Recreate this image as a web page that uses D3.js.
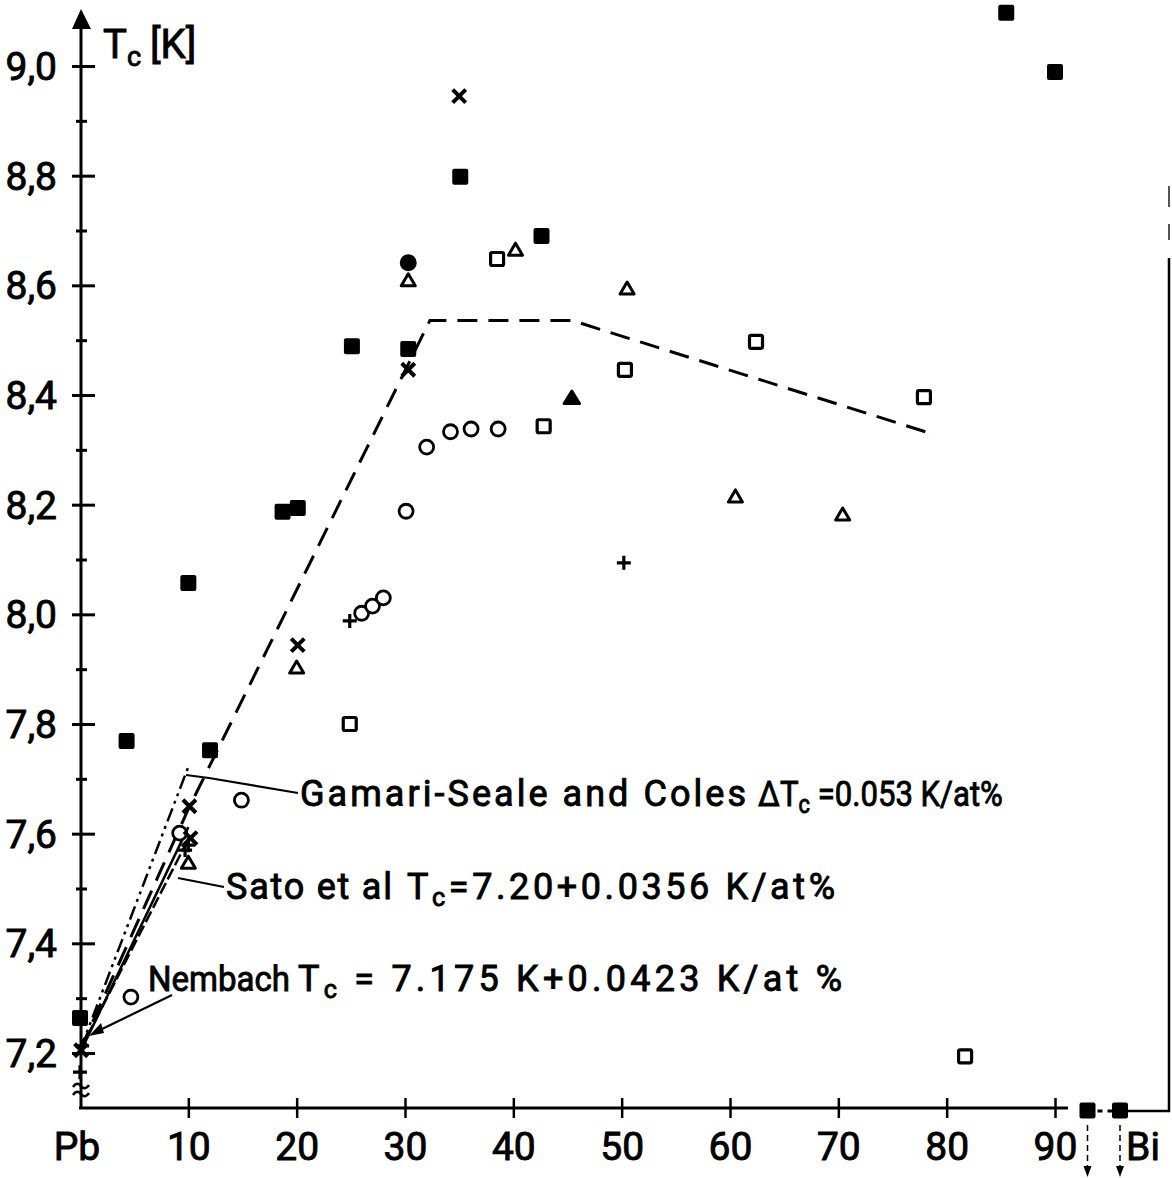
<!DOCTYPE html>
<html><head><meta charset="utf-8">
<script src="https://cdn.jsdelivr.net/npm/d3@7"></script>
<style>
body{margin:0;background:#fff}
svg{display:block}
text{font-family:Roboto,"DejaVu Sans",sans-serif;fill:#000;stroke:#000;stroke-width:0.9px}
</style>
</head><body>
<svg id="c" width="1172" height="1178"></svg>
<script>
// ---- data ----
const xTicks=[10,20,30,40,50,60,70,80,90];
const xTickLabels=["10","20","30","40","50","60","70","80","90"];
const yMajor=[7.2,7.4,7.6,7.8,8.0,8.2,8.4,8.6,8.8,9.0];
const yMajorLabels=["7,2","7,4","7,6","7,8","8,0","8,2","8,4","8,6","8,8","9,0"];
const yMinor=[7.3,7.5,7.7,7.9,8.1,8.3,8.5,8.7,8.9];

const filledSquares=[[0,7.264],[4.3,7.769],[10,8.057],[12,7.752],[18.7,8.187],[20.1,8.194],[25.1,8.489],[30.3,8.484],[35.1,8.798],[42.6,8.69],[85.5,9.097],[90,8.989]];
const belowRange=[[93.0,7.095],[96.0,7.095]];
const openCircles=[[4.7,7.302],[9.2,7.601],[14.9,7.661],[26.0,8.002],[27.0,8.015],[28.0,8.03],[30.1,8.188],[32.0,8.305],[34.2,8.333],[36.1,8.338],[38.6,8.338]];
const openSquares=[[24.9,7.8],[38.5,8.648],[42.8,8.343],[50.3,8.446],[62.4,8.497],[77.9,8.396],[81.7,7.194]];
const openTriangles=[[10.0,7.548],[20.0,7.904],[30.3,8.61],[40.2,8.666],[50.5,8.595],[60.5,8.216],[70.4,8.183]];
const filledTriangles=[[45.4,8.396]];
const filledCircles=[[30.3,8.641]];
const crosses=[[10.1,7.65],[20.1,7.944],[30.3,8.446],[35.0,8.945],[10.2,7.592],[0.1,7.205]];
const pluses=[[0,7.165],[24.9,7.988],[50.2,8.094],[10.0,7.579],[0.2,7.213],[9.7,7.57]];

const guideLine=[[0,7.205],[10,7.645],[32.3,8.536],[45.4,8.536],[79,8.327]];
const gamariLine=[[0,7.205],[10,7.722]];
const nembachLine=[[0,7.2],[10,7.612]];
const satoLine=[[0,7.205],[10,7.59]];

// ---- scales ----
const svg=d3.select("#c");
const x=d3.scaleLinear().domain([0,90]).range([80,1055]);
const y=d3.scaleLinear().domain([7.2,9.0]).range([1053,66]);
const axisY=1108, axisX=81;

// ---- axes ----
const yAx=svg.append("g").attr("transform",`translate(${axisX},0)`)
  .call(d3.axisLeft(y).tickValues(yMajor).tickFormat((d,i)=>yMajorLabels[i]).tickSize(9).tickPadding(0));
yAx.select(".domain").remove();
yAx.selectAll(".tick line").attr("x1",-9).attr("x2",14).attr("stroke","#000").attr("stroke-width",3);
yAx.selectAll(".tick text").attr("x",-24).attr("dy","0.35em").attr("font-size",39).attr("text-anchor","end")
  .attr("font-family","Roboto").attr("fill","#000");
const yMin=svg.append("g").attr("transform",`translate(${axisX},0)`)
  .call(d3.axisLeft(y).tickValues(yMinor).tickFormat("").tickSize(5));
yMin.select(".domain").remove();
yMin.selectAll(".tick line").attr("x1",-5).attr("x2",6).attr("stroke","#000").attr("stroke-width",3);

const xAx=svg.append("g").attr("transform",`translate(0,${axisY})`)
  .call(d3.axisBottom(x).tickValues(xTicks).tickFormat((d,i)=>xTickLabels[i]).tickSize(10).tickPadding(0));
xAx.select(".domain").remove();
xAx.selectAll(".tick line").attr("y1",-10).attr("y2",10).attr("stroke","#000").attr("stroke-width",2.5);
xAx.selectAll(".tick text").attr("y",52).attr("dy",0).attr("font-size",39).attr("font-family","Roboto").attr("fill","#000");

const lineAttr=s=>s.attr("stroke","#000").attr("stroke-width",3).attr("fill","none");
// y axis line + arrow
svg.append("line").attr("x1",axisX).attr("x2",axisX).attr("y1",axisY).attr("y2",26).call(lineAttr);
svg.append("path").attr("d",`M${axisX},9 L${axisX-9},29 L${axisX+10},29 Z`).attr("fill","#000");
// break symbol
[1085,1093].forEach(yy=>{
  svg.append("path").attr("d",`M${axisX-8},${yy+2} q4,-6 8,-1 t8,-1`).attr("stroke","#000").attr("stroke-width",2.5).attr("fill","none");
});
// x axis
svg.append("line").attr("x1",axisX-2).attr("x2",1068).attr("y1",axisY).attr("y2",axisY).call(lineAttr);
svg.append("line").attr("x1",x(93)).attr("x2",x(96)).attr("y1",axisY+3).attr("y2",axisY+3).call(lineAttr).attr("stroke-dasharray","5,5");
svg.append("path").attr("d",`M1127,${axisY+3} L1169,${axisY+3} L1169,258`).call(lineAttr).attr("stroke-width",2.5);
svg.append("line").attr("x1",1169).attr("x2",1169).attr("y1",186).attr("y2",207).call(lineAttr).attr("stroke-width",2).attr("stroke","#555");
svg.append("line").attr("x1",1169).attr("x2",1169).attr("y1",224).attr("y2",240).call(lineAttr).attr("stroke-width",2).attr("stroke","#555");

// extra axis labels
svg.append("text").attr("x",x(0)-3).attr("y",1160).attr("font-size",39).attr("text-anchor","middle").text("Pb");
svg.append("text").attr("x",1143).attr("y",1160).attr("font-size",39).attr("text-anchor","middle").text("Bi");
const tl=svg.append("text").attr("x",103).attr("y",58).attr("font-size",40);
tl.append("tspan").text("T");
tl.append("tspan").attr("font-size",27).attr("dy",8).text("c");
tl.append("tspan").attr("dy",-8).attr("dx",9).text("[K]");

// below-range arrows
belowRange.forEach(d=>{
  const px=x(d[0]);
  svg.append("line").attr("x1",px).attr("x2",px).attr("y1",axisY+17).attr("y2",1168).attr("stroke","#000").attr("stroke-width",1.5).attr("stroke-dasharray","6,4");
  svg.append("path").attr("d",`M${px},1177 L${px-4},1166 L${px+4},1166 Z`).attr("fill","#000");
});

// ---- lines ----
const ln=d3.line().x(d=>x(d[0])).y(d=>y(d[1]));
svg.append("path").attr("d",ln(guideLine)).call(lineAttr).attr("stroke-dasharray","20,11");
svg.append("path").attr("d",ln(gamariLine)).call(lineAttr).attr("stroke-width",2.5).attr("stroke-dasharray","14,5,3,5,3,5");
svg.append("path").attr("d",ln(nembachLine)).call(lineAttr).attr("stroke-width",2.5);
svg.append("path").attr("d",ln(satoLine)).call(lineAttr).attr("stroke-width",2.5).attr("stroke-dasharray","12,4");

// ---- markers ----
const g=svg.append("g");
g.selectAll(".fs").data(filledSquares.concat(belowRange)).join("rect")
  .attr("x",d=>x(d[0])-8).attr("y",d=>y(d[1])-8).attr("width",16).attr("height",16).attr("rx",2).attr("fill","#000");
g.selectAll(".os").data(openSquares).join("rect")
  .attr("x",d=>x(d[0])-6.5).attr("y",d=>y(d[1])-6.5).attr("width",13).attr("height",13).attr("rx",1.5)
  .attr("fill","#fff").attr("stroke","#000").attr("stroke-width",3.2);
g.selectAll(".oc").data(openCircles).join("circle")
  .attr("cx",d=>x(d[0])).attr("cy",d=>y(d[1])).attr("r",7).attr("fill","#fff").attr("stroke","#000").attr("stroke-width",2.8);
g.selectAll(".fc").data(filledCircles).join("circle")
  .attr("cx",d=>x(d[0])).attr("cy",d=>y(d[1])).attr("r",8.5).attr("fill","#000");
const tri=(cx,cy,w,h)=>`M${cx},${cy-h/2} L${cx+w/2},${cy+h/2} L${cx-w/2},${cy+h/2} Z`;
g.selectAll(".ot").data(openTriangles).join("path")
  .attr("d",d=>tri(x(d[0]),y(d[1]),14,12)).attr("fill","#fff").attr("stroke","#000").attr("stroke-width",3).attr("stroke-linejoin","round");
g.selectAll(".ft").data(filledTriangles).join("path")
  .attr("d",d=>tri(x(d[0]),y(d[1]),16,13)).attr("fill","#000").attr("stroke","#000").attr("stroke-width",2.5).attr("stroke-linejoin","round");
g.selectAll(".cr").data(crosses).join("path")
  .attr("d",d=>{const cx=x(d[0]),cy=y(d[1]),a=6.5;return `M${cx-a},${cy-a}L${cx+a},${cy+a}M${cx-a},${cy+a}L${cx+a},${cy-a}`;})
  .attr("stroke","#000").attr("stroke-width",4).attr("fill","none");
g.selectAll(".pl").data(pluses).join("path")
  .attr("d",d=>{const cx=x(d[0]),cy=y(d[1]),a=7;return `M${cx-a},${cy}L${cx+a},${cy}M${cx},${cy-a}L${cx},${cy+a}`;})
  .attr("stroke","#000").attr("stroke-width",3.2).attr("fill","none");

// ---- annotations ----
const lead=s=>s.attr("stroke","#000").attr("stroke-width",2.2).attr("fill","none");
svg.append("path").attr("d","M186,775 L209,778 L298,793").call(lead);
svg.append("path").attr("d","M178,878 L224,887").call(lead);
svg.append("path").attr("d","M172,995 L98,1031").call(lead);
svg.append("path").attr("d","M89,1036 L101,1023 L104,1033 Z").attr("fill","#000");

function ann(xx,yy,len,parts){
  const fs=36;
  const t=svg.append("text").attr("x",xx).attr("y",yy).attr("font-size",fs);
  parts.forEach(p=>{
    const s=t.append("tspan").text(p[0]);
    if(p[1]==="sub") s.attr("dy",7).attr("font-size",fs*0.7);
    if(p[1]==="up") s.attr("dy",-7);
  });
  const w=t.node().getComputedTextLength();
  if(w>len){ const k=len/w; t.attr("transform",`translate(${xx*(1-k)},0) scale(${k},1)`); }
  else { t.attr("textLength",len).attr("lengthAdjust","spacing"); }
}
ann(300,806,446,[["Gamari-Seale and Coles"]]);
ann(758,806,245,[["ΔT"],["c","sub"],[" =0.053 K/at%","up"]]);
ann(226,899,166,[["Sato et al"]]);
ann(407,899,428,[["T"],["c","sub"],["=7.20+0.0356 K/at%","up"]]);
ann(148,991,142,[["Nembach"]]);
ann(298,991,544,[["T"],["c","sub"],[" = 7.175 K+0.0423 K/at %","up"]]);
</script>
</body></html>
